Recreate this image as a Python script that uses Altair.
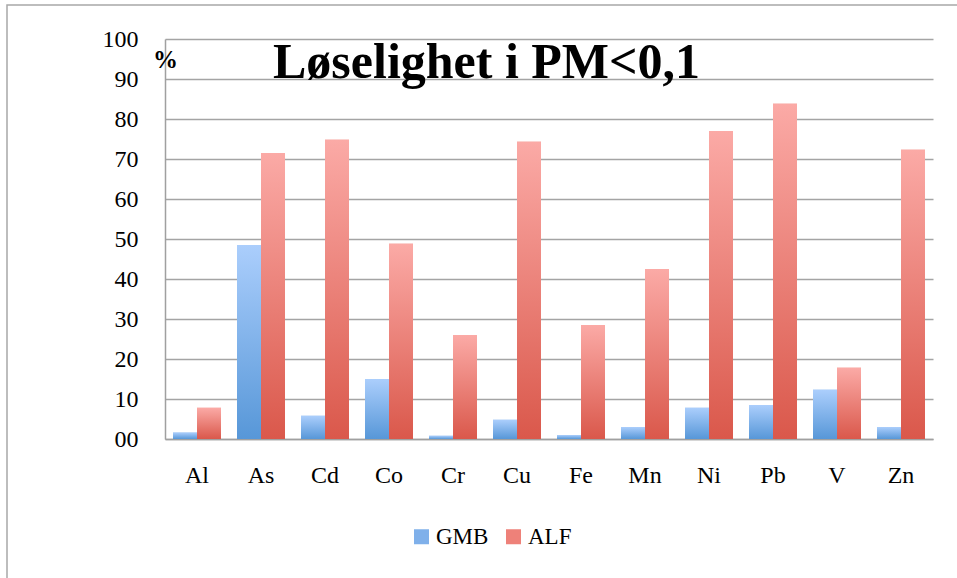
import altair as alt
import pandas as pd

# Solubility (%) of elements in PM<0.1, two extraction media
elements = ["Al", "As", "Cd", "Co", "Cr", "Cu", "Fe", "Mn", "Ni", "Pb", "V", "Zn"]
gmb = [1.6, 48.5, 5.8, 15.0, 0.8, 4.8, 1.0, 3.0, 7.8, 8.5, 12.3, 3.0]
alf = [7.8, 71.5, 74.8, 48.8, 26.0, 74.3, 28.5, 42.5, 77.0, 83.8, 17.8, 72.3]
series = ["GMB", "ALF"]
title_text = "Løselighet i PM<0,1"
unit_text = "%"

rows = []
for i, el in enumerate(elements):
    rows.append({"element": el, "series": "GMB", "value": gmb[i]})
    rows.append({"element": el, "series": "ALF", "value": alf[i]})
df = pd.DataFrame(rows)

SERIF = "Liberation Serif"

x_enc = alt.X(
    "element:N",
    sort=elements,
    title=None,
    scale=alt.Scale(paddingInner=0.25, paddingOuter=0.125),
    axis=alt.Axis(
        labelAngle=0, labelFont=SERIF, labelFontSize=24, labelColor="#000000",
        labelPadding=24, ticks=False, domainColor="#a0a0a0", domainWidth=1.5,
        labelBaseline="top",
    ),
)
y_enc = alt.Y(
    "value:Q",
    title=None,
    scale=alt.Scale(domain=[0, 100], nice=False),
    axis=alt.Axis(
        values=list(range(0, 101, 10)), labelFont=SERIF, labelFontSize=24,
        labelColor="#000000", labelPadding=27, ticks=False,
        domainColor="#a0a0a0", domainWidth=1.5,
        gridColor="#a4a4a4", gridWidth=1.5,
        labelExpr="datum.value == 0 ? '00' : datum.label",
    ),
)
xoff = alt.XOffset("series:N", sort=series, scale=alt.Scale(domain=series))

base = alt.Chart(df)

# solid bars carry the legend; gradient bars are drawn over them
legend_bars = base.mark_bar().encode(
    x=x_enc, y=y_enc, xOffset=xoff,
    color=alt.Color(
        "series:N", sort=series,
        scale=alt.Scale(domain=series, range=["#7fb0ea", "#ee8179"]),
        legend=alt.Legend(
            title=None, orient="none", direction="horizontal",
            legendX=245, legendY=486, symbolType="square", symbolSize=225,
            symbolStrokeWidth=0, labelFont=SERIF, labelFontSize=23,
            labelColor="#000000", labelOffset=3, columnPadding=13,
        ),
    ),
)

blue_grad = alt.LinearGradient(
    gradient="linear", x1=0, x2=0, y1=0, y2=1,
    stops=[alt.GradientStop(color="#abcefc", offset=0),
           alt.GradientStop(color="#5797d8", offset=1)],
)
red_grad = alt.LinearGradient(
    gradient="linear", x1=0, x2=0, y1=0, y2=1,
    stops=[alt.GradientStop(color="#fbaaa6", offset=0),
           alt.GradientStop(color="#da584b", offset=1)],
)

gmb_bars = base.transform_filter(alt.datum.series == "GMB").mark_bar(
    color=blue_grad
).encode(x=x_enc, y=y_enc, xOffset=xoff)
alf_bars = base.transform_filter(alt.datum.series == "ALF").mark_bar(
    color=red_grad
).encode(x=x_enc, y=y_enc, xOffset=xoff)

label_df = pd.DataFrame({"t": [title_text], "u": [unit_text]})
title_mark = alt.Chart(label_df).mark_text(
    font=SERIF, fontSize=50, fontWeight="bold", align="left",
    baseline="alphabetic", color="#000000",
).encode(text="t:N", x=alt.value(108), y=alt.value(39))
unit_mark = alt.Chart(label_df).mark_text(
    font=SERIF, fontSize=25, fontWeight="bold", align="left",
    baseline="alphabetic", color="#000000",
).encode(text="u:N", x=alt.value(-12), y=alt.value(29))

# outer chart frame
frame = alt.Chart(label_df).mark_rect(
    fill=None, stroke="#a8a8a8", strokeWidth=1.5
).encode(x=alt.value(-158), y=alt.value(-34), x2=alt.value(900), y2=alt.value(700))

chart = alt.layer(
    frame, legend_bars, gmb_bars, alf_bars, title_mark, unit_mark
).properties(
    width=768, height=400,
    autosize=alt.AutoSizeParams(type="none"),
    padding={"left": 165, "top": 39, "right": 24, "bottom": 139},
    background="#ffffff",
).configure_view(
    stroke=None
).configure_legend(
    labelFont=SERIF, labelFontSize=23, labelColor="#000000"
)

chart.save("out.html", embed_options={"renderer": "svg", "actions": False})
